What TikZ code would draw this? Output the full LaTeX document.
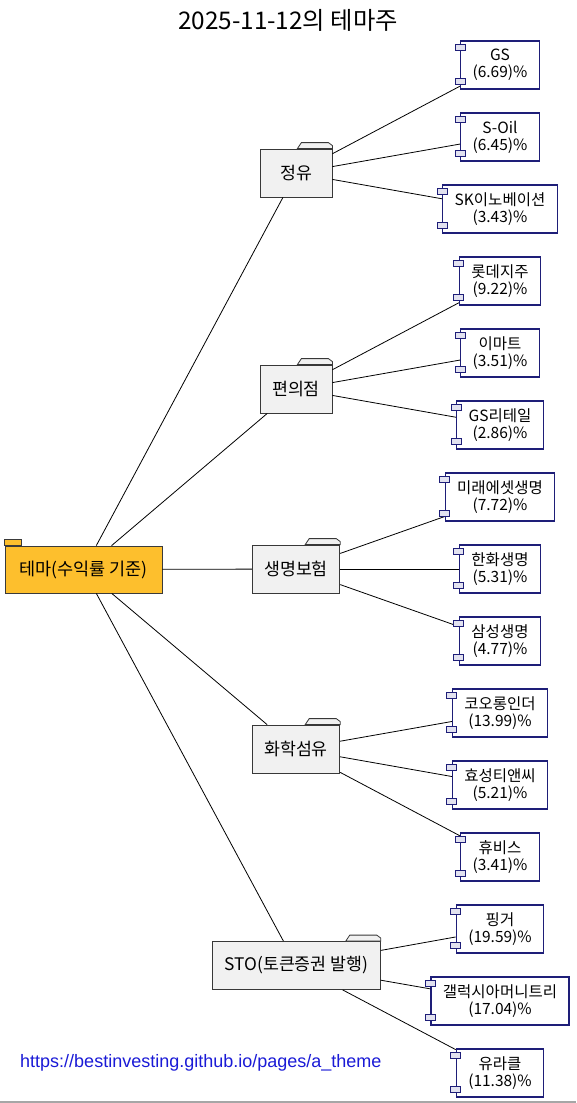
\documentclass[tikz,border=0pt]{standalone}
\usepackage{fontspec}
\setmainfont{Noto Sans CJK KR}
\newfontfamily\urlfont{Liberation Sans}
\usepackage{xcolor}
\definecolor{cRoot}{HTML}{FDBF2D}
\definecolor{cRootLine}{HTML}{3A3A3A}
\definecolor{cCat}{HTML}{F1F1F1}
\definecolor{cCatLine}{HTML}{383838}
\definecolor{cLeafLine}{HTML}{1E1E78}
\definecolor{cPort}{HTML}{E2E2F0}
\definecolor{cLink}{HTML}{1A1AD6}
\tikzset{
  root/.style  = {rectangle, draw=cRootLine, fill=cRoot, line width=0.8pt,
                  inner xsep=12pt, minimum width=157pt, minimum height=47pt,
                  font=\fontsize{17.5}{20}\selectfont},
  cat/.style   = {rectangle, draw=cCatLine, fill=cCat, line width=0.8pt,
                  inner xsep=12pt, minimum width=72pt, minimum height=48pt,
                  font=\fontsize{17.3}{20}\selectfont},
  leaf/.style  = {rectangle, draw=cLeafLine, fill=white, line width=1.1pt, align=center,
                  inner xsep=12pt, minimum width=77pt, minimum height=48pt,
                  font=\fontsize{15.5}{17}\selectfont},
  port/.style  = {draw=cLeafLine, fill=cPort, line width=0.9pt},
  link/.style  = {draw=black, line width=0.8pt},
}
\newcommand{\cattab}[1]{%
  \filldraw[draw=cCatLine, fill=cCat, line width=0.8pt]
    ([xshift=-35pt]#1.north east) -- ++(4pt,6pt) -- ++(27pt,0pt) -- ++(4pt,-3pt)
    -- (#1.north east) -- cycle;}

\begin{document}
\begin{tikzpicture}[x=1pt, y=-1pt]
  \useasboundingbox (0,0) rectangle (576,1103);

  \node[font=\fontsize{24.3}{28}\selectfont] (title) at (288,20) {2025-11-12의 테마주};

  \node[root] (theme) at (83.5,569.5) {테마(수익률 기준)};
  \filldraw[draw=cRootLine, fill=cRoot, line width=0.8pt]
    (theme.north west) rectangle ++(17pt,6pt);

  \node[cat] (oil)   at (296,173)   {정유};
  \node[cat] (conv)  at (296,389)   {편의점};
  \node[cat] (life)  at (296,569)   {생명보험};
  \node[cat] (fiber) at (296,749)   {화학섬유};
  \node[cat] (sto)   at (296.5,965.5) {STO(토큰증권 발행)};
  \foreach \c in {oil,conv,life,fiber,sto}
    \cattab{\c};

  \node[leaf] (gs)       at (500,65)   {GS\\(6.69)\%};
  \node[leaf] (soil)     at (500,137)  {S-Oil\\(6.45)\%};
  \node[leaf] (skinno)   at (500,209)  {SK이노베이션\\(3.43)\%};
  \node[leaf] (lotte)    at (500,281)  {롯데지주\\(9.22)\%};
  \node[leaf] (emart)    at (500,353)  {이마트\\(3.51)\%};
  \node[leaf] (gsretail) at (500,425)  {GS리테일\\(2.86)\%};
  \node[leaf] (mirae)    at (500,497)  {미래에셋생명\\(7.72)\%};
  \node[leaf] (hanwha)   at (500,569)  {한화생명\\(5.31)\%};
  \node[leaf] (samsung)  at (500,641)  {삼성생명\\(4.77)\%};
  \node[leaf] (kolon)    at (500,713)  {코오롱인더\\(13.99)\%};
  \node[leaf] (hyosung)  at (500,785)  {효성티앤씨\\(5.21)\%};
  \node[leaf] (huvis)    at (500,857)  {휴비스\\(3.41)\%};
  \node[leaf] (finger)   at (500,929)  {핑거\\(19.59)\%};
  \node[leaf] (galaxia)  at (500,1001) {갤럭시아머니트리\\(17.04)\%};
  \node[leaf] (uracle)   at (500,1073) {유라클\\(11.38)\%};

  \foreach \c in {oil,conv,life,fiber,sto}
    \draw[link] (theme) -- (\c);
  \foreach \c/\l in {oil/gs,oil/soil,oil/skinno,conv/lotte,conv/emart,conv/gsretail,
                     life/mirae,life/hanwha,life/samsung,fiber/kolon,fiber/hyosung,fiber/huvis,
                     sto/finger,sto/galaxia,sto/uracle}
    \draw[link] (\c) -- (\l);

  % component ports
  \foreach \l in {gs,soil,skinno,lotte,emart,gsretail,mirae,hanwha,samsung,
                  kolon,hyosung,huvis,finger,galaxia,uracle} {
    \filldraw[port] ([xshift=-5pt,yshift=-4pt]\l.north west) rectangle ++(10pt,-6pt);
    \filldraw[port] ([xshift=-5pt,yshift=5pt]\l.south west) rectangle ++(10pt,6pt);
  }

  \node[anchor=west, inner sep=0pt, text=cLink, font=\urlfont\fontsize{18}{20}\selectfont]
    (url) at (20,1063) {https://bestinvesting.github.io/pages/a\_theme};
  \draw[draw=gray!70, line width=1.5pt] (0,1102) -- (576,1102);
\end{tikzpicture}
\end{document}
